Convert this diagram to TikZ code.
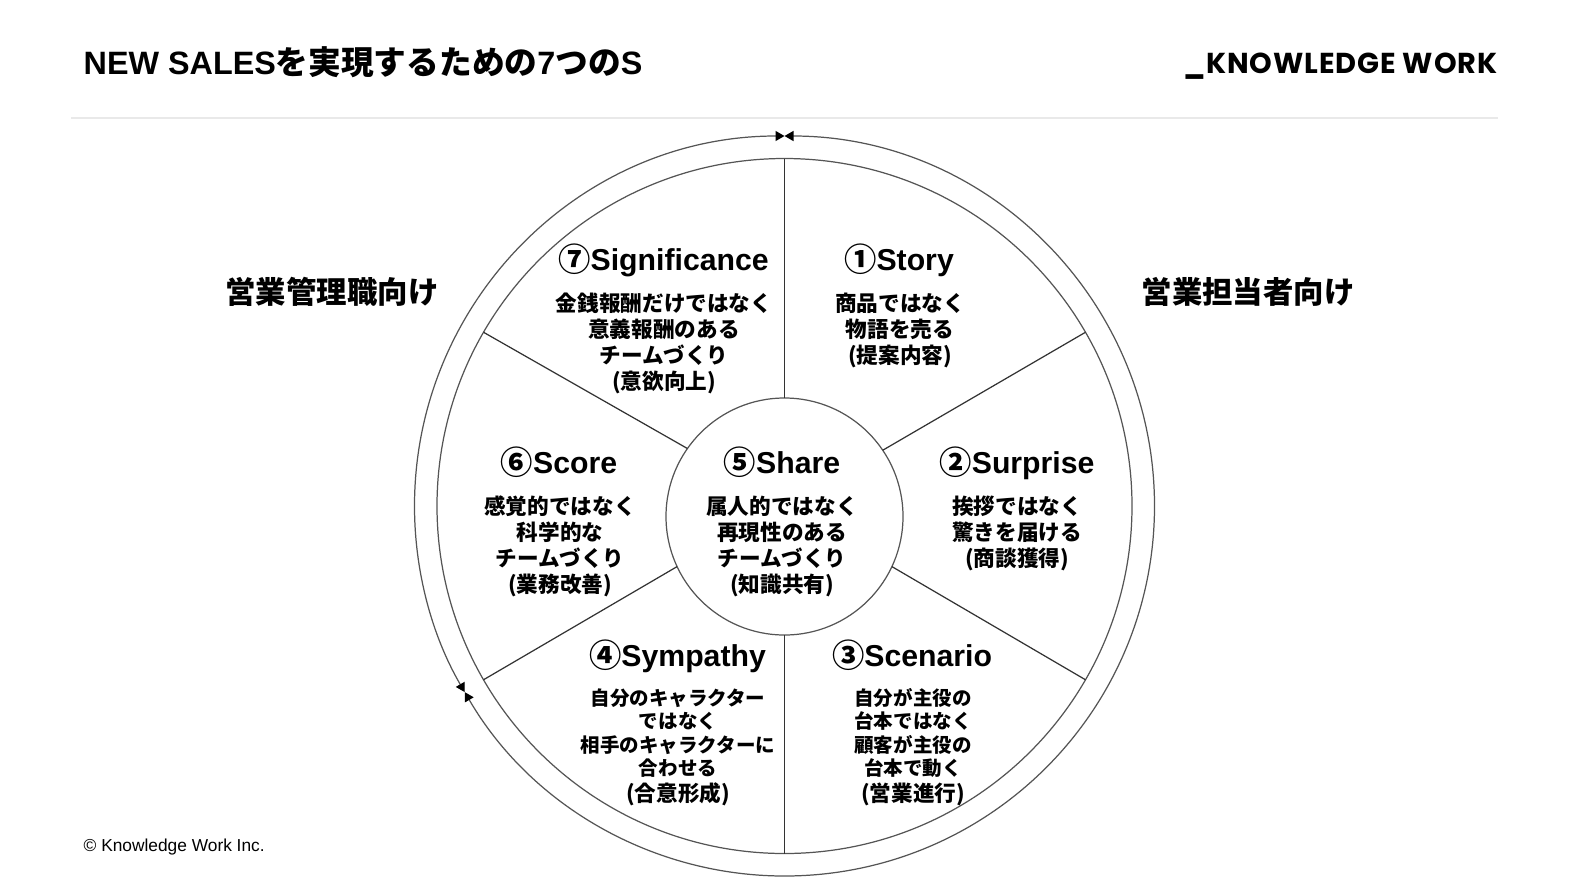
\documentclass[tikz,border=0pt]{standalone}
\usepackage{fontspec}
\setmainfont{Liberation Sans}
\newfontfamily\cjk{Noto Sans CJK JP}
\newfontfamily\logofont[LetterSpace=3]{Poppins}
\usetikzlibrary{arrows.meta}
\definecolor{ringgray}{HTML}{555555}
\definecolor{spokegray}{HTML}{333333}
\definecolor{rulegray}{HTML}{E9E9E9}
\tikzset{
  ring/.style={circle, inner sep=0pt, outer sep=0pt, line width=0.35pt},
  spoke/.style={draw=spokegray, line width=0.35pt},
  ringarrow/.style={draw=ringgray, line width=0.35pt, {Triangle[length=0.9mm,width=1mm,black]}-{Triangle[length=0.9mm,width=1mm,black]}},
  sechead/.style={inner sep=0pt, anchor=base, font=\fontsize{8.6}{10}\selectfont\bfseries},
  secbody/.style={inner sep=0pt, align=center, font=\fontsize{6.15}{7.4}\selectfont\bfseries\cjk},
  secbodysm/.style={inner sep=0pt, align=center, font=\fontsize{5.55}{6.69}\selectfont\bfseries\cjk},
  sidelabel/.style={inner sep=0pt, font=\fontsize{8.65}{10}\selectfont\bfseries\cjk}
}
\newcommand{\numc}[1]{\raisebox{-0.35pt}{\cjk\bfseries\fontsize{9.2}{10}\selectfont #1}}
\newcommand{\lastln}[1]{{\fontsize{6.15}{6.69}\selectfont #1}}
\begin{document}
\begin{tikzpicture}
  \useasboundingbox (0,0) rectangle (15.70,8.79);

  % Header
  \node[inner sep=0pt, anchor=west, font=\fontsize{9.2}{10}\selectfont\bfseries] (title) at (0.83, 8.17) {NEW SALES{\cjk\fontsize{9.3}{10}\selectfont を実現するための}7{\cjk\fontsize{9.3}{10}\selectfont つの}S};
  \node[inner sep=0pt, anchor=east, font=\fontsize{8.2}{10}\selectfont\bfseries\logofont] (logo) at (14.98, 8.13) {\_KNOWLEDGE WORK};
  \draw[rulegray, line width=0.55pt] (0.71, 7.61) coordinate (ruleL) -- (14.98, 7.61) coordinate (ruleR);

  % Circles
  \node[ring, minimum size=7.40cm] (outer) at (7.845, 3.73) {};
  \node[ring, draw=ringgray, minimum size=6.95cm] (inner) at (7.845, 3.73) {};
  \node[ring, draw=ringgray, minimum size=2.37cm] (hub) at (7.845, 3.625) {};

  % Outer arrows
  \draw[ringarrow] (outer.90) arc[start angle=90, end angle=210.2, radius=3.70];
  \draw[ringarrow] (outer.90) arc[start angle=90, end angle=-149.8, radius=3.70];

  % Spokes
  \draw[spoke] (inner.90) -- (hub.90);
  \draw[spoke] (inner.30) -- (hub.34.4);
  \draw[spoke] (inner.-30) -- (hub.-25.8);
  \draw[spoke] (inner.-90) -- (hub.-90);
  \draw[spoke] (inner.210) -- (hub.205.8);
  \draw[spoke] (inner.150) -- (hub.145);

  % Sections
  \node[sechead] (story) at (8.99, 6.09) {\numc{①}Story};
  \node[secbody] (storytxt) at (9.00, 5.49) {商品ではなく\\物語を売る\\(提案内容)};
  \node[sechead] (surprise) at (10.17, 4.06) {\numc{②}Surprise};
  \node[secbody] (surprisetxt) at (10.17, 3.46) {挨拶ではなく\\驚きを届ける\\(商談獲得)};
  \node[sechead] (scenario) at (9.12, 2.13) {\numc{③}Scenario};
  \node[secbodysm] (scenariotxt) at (9.13, 1.32) {自分が主役の\\台本ではなく\\顧客が主役の\\台本で動く\\[0.6pt]\lastln{(営業進行)}};
  \node[sechead] (sympathy) at (6.775, 2.13) {\numc{④}Sympathy};
  \node[secbodysm] (sympathytxt) at (6.78, 1.32) {自分のキャラクター\\ではなく\\相手のキャラクターに\\合わせる\\[0.6pt]\lastln{(合意形成)}};
  \node[sechead] (share) at (7.82, 4.06) {\numc{⑤}Share};
  \node[secbody] (sharetxt) at (7.82, 3.33) {属人的ではなく\\再現性のある\\チームづくり\\(知識共有)};
  \node[sechead] (score) at (5.59, 4.06) {\numc{⑥}Score};
  \node[secbody] (scoretxt) at (5.60, 3.33) {感覚的ではなく\\科学的な\\チームづくり\\(業務改善)};
  \node[sechead] (significance) at (6.635, 6.09) {\numc{⑦}Significance};
  \node[secbody] (significancetxt) at (6.64, 5.36) {金銭報酬だけではなく\\意義報酬のある\\チームづくり\\(意欲向上)};

  % Side labels
  \node[sidelabel] (manager) at (3.32, 5.87) {営業管理職向け};
  \node[sidelabel] (rep) at (12.48, 5.87) {営業担当者向け};

  % Footer
  \node[inner sep=0pt, anchor=west, font=\fontsize{4.93}{6}\selectfont] (copy) at (0.83, 0.32) {© Knowledge Work Inc.};
\end{tikzpicture}
\end{document}
